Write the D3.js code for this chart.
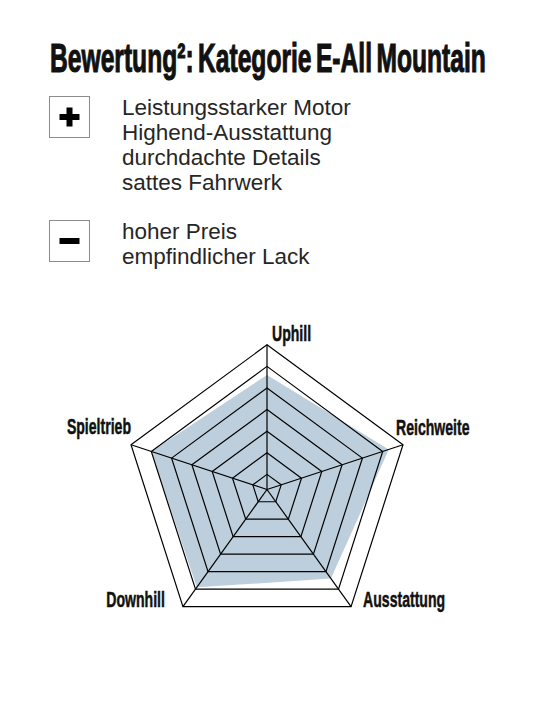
<!DOCTYPE html>
<html>
<head>
<meta charset="utf-8">
<script src="https://cdn.jsdelivr.net/npm/d3@7"></script>
<style>
  html, body { margin: 0; padding: 0; background: #fff; }
</style>
</head>
<body>
<div id="chart"></div>
<script>
// chart content
const titleText = "Bewertung²: Kategorie E-All Mountain";
const prosItems = ["Leistungsstarker Motor", "Highend-Ausstattung", "durchdachte Details", "sattes Fahrwerk"];
const consItems = ["hoher Preis", "empfindlicher Lack"];
const axisNames = ["Uphill", "Reichweite", "Ausstattung", "Downhill", "Spieltrieb"];
const axisScores = [5.6, 6.3, 5.4, 5.9, 6.0];
const ringLevels = [1, 2, 3, 4, 5, 6, 7];

const width = 542;
const height = 720;
const condensed = 0.64; // squeeze Liberation Sans Bold to look like a condensed cut

const svg = d3.select("#chart")
  .append("svg")
  .attr("viewBox", [0, 0, width, height])
  .attr("width", width)
  .attr("height", height)
  .style("display", "block");

// Title, squeezed to the width of the original headline
const title = svg.append("text")
  .attr("font-family", "Liberation Sans, Arial, sans-serif")
  .attr("font-weight", "bold")
  .attr("font-size", 40)
  .attr("word-spacing", -4)
  .attr("fill", "#111")
  .attr("stroke", "#111")
  .attr("stroke-width", 1.1)
  .text(titleText);
const titleW = title.node().getComputedTextLength() || 720;
title.attr("transform", `translate(50,72) scale(${436 / titleW},1)`);

// Pros / cons blocks
function listBlock(y0, items, sign) {
  const g = svg.append("g");
  g.append("rect")
    .attr("x", 49.5)
    .attr("y", y0 + 0.5)
    .attr("width", 40)
    .attr("height", 41)
    .attr("fill", "#fff")
    .attr("stroke", "#8c8c8c")
    .attr("stroke-width", 1);

  const mx = 69.5, my = y0 + 21;
  g.append("rect")
    .attr("x", mx - 10).attr("y", my - 3)
    .attr("width", 20).attr("height", 6)
    .attr("fill", "#000");
  if (sign === "+") {
    g.append("rect")
      .attr("x", mx - 3).attr("y", my - 9.5)
      .attr("width", 6).attr("height", 19)
      .attr("fill", "#000");
  }

  g.selectAll("text.item")
    .data(items)
    .join("text")
    .attr("class", "item")
    .attr("x", 122)
    .attr("y", (d, i) => y0 + 19 + i * 25)
    .attr("font-family", "Liberation Sans, Arial, sans-serif")
    .attr("font-size", 22.5)
    .attr("fill", "#262626")
    .text((d) => d);
}

listBlock(96, prosItems, "+");
listBlock(220, consItems, "-");

// Radar
const cx = 267;
const cy = 489.5;
const R = 143;
const ky = 1.012; // the printed pentagon is a touch taller than wide

const r = d3.scaleLinear().domain([0.3, 7]).range([0, R]);
const angle = d3.scalePoint()
  .domain(axisNames)
  .range([0, 2 * Math.PI * (axisNames.length - 1) / axisNames.length]);

const pt = (name, v) => [
  cx + r(v) * Math.sin(angle(name)),
  cy - r(v) * Math.cos(angle(name)) * ky
];

const line = d3.line().curve(d3.curveLinearClosed);

// score area
svg.append("path")
  .attr("d", line(axisNames.map((n, i) => pt(n, axisScores[i]))))
  .attr("fill", "#bdcfdc")
  .attr("stroke", "none");

// rings
svg.append("g")
  .selectAll("path")
  .data(ringLevels)
  .join("path")
  .attr("d", (lv) => line(axisNames.map((n) => pt(n, lv))))
  .attr("fill", "none")
  .attr("stroke", "#000")
  .attr("stroke-width", 1.2)
  .attr("stroke-linejoin", "miter");

// spokes
svg.append("g")
  .selectAll("line")
  .data(axisNames)
  .join("line")
  .attr("x1", cx)
  .attr("y1", cy)
  .attr("x2", (n) => pt(n, 7)[0])
  .attr("y2", (n) => pt(n, 7)[1])
  .attr("stroke", "#000")
  .attr("stroke-width", 1.2);

// axis labels
const labelLayout = {
  Uphill: { anchor: "start", dx: 5, dy: -4 },
  Reichweite: { anchor: "start", dx: -7, dy: -10 },
  Ausstattung: { anchor: "start", dx: 12, dy: 0 },
  Downhill: { anchor: "end", dx: -18, dy: 0 },
  Spieltrieb: { anchor: "end", dx: 0, dy: -11 }
};

svg.append("g")
  .selectAll("text")
  .data(axisNames)
  .join("text")
  .attr("transform", (n) => {
    const [x, y] = pt(n, 7);
    const l = labelLayout[n];
    return `translate(${x + l.dx},${y + l.dy}) scale(${condensed},1)`;
  })
  .attr("text-anchor", (n) => labelLayout[n].anchor)
  .attr("font-family", "Liberation Sans, Arial, sans-serif")
  .attr("font-weight", "bold")
  .attr("font-size", 22)
  .attr("fill", "#111")
  .attr("stroke", "#111")
  .attr("stroke-width", 0.5)
  .text((n) => n);
</script>
</body>
</html>
